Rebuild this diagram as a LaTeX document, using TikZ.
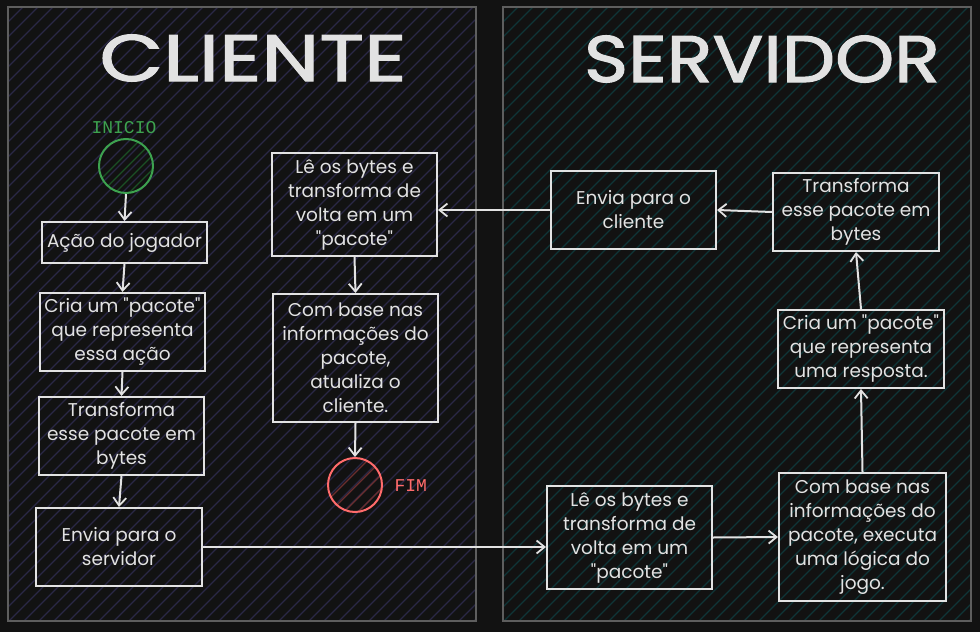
\documentclass[tikz,border=0pt]{standalone}
\usepackage{fontspec}
\setmainfont{Poppins}
\newfontfamily\monofonte{Liberation Mono}
\usepackage{tikz}
\usetikzlibrary{arrows.meta}
\usetikzlibrary{calc}

\definecolor{fundo}{HTML}{121212}
\definecolor{borda}{HTML}{5E5E5E}
\definecolor{hachL}{HTML}{2A2846}
\definecolor{hachR}{HTML}{0F3538}
\definecolor{traco}{HTML}{E2E2E2}
\definecolor{verde}{HTML}{3DA24F}
\definecolor{verdeesc}{HTML}{1B4F25}
\definecolor{vermelho}{HTML}{FF6B6B}
\definecolor{vermesc}{HTML}{6B2E2E}
\newcommand{\aspas}{\textquotedbl}

\tikzset{
  caixa/.style={draw=traco, line width=2pt, text=traco, align=center,
    inner sep=2pt, font=\fontsize{18.5}{24}\selectfont},
  seta/.style={draw=traco, line width=2pt, -{Straight Barb[length=8pt,width=13pt,line width=1.8pt]}},
  titulo/.style={text=traco, font=\addfontfeature{FakeBold=1.6}\fontsize{66}{70}\selectfont},
  painel/.style={draw=borda, line width=2.5pt},
  hachura/.style={line width=1.1pt}
}

\begin{document}
\begin{tikzpicture}[x=1pt,y=-1pt]
\fill[fundo] (0,0) rectangle (980,632);
\useasboundingbox (0,0) rectangle (980,632);

% paineis com hachura
\begin{scope}
\clip (8,7) rectangle (476,621);
\foreach \i in {-606,-591,...,480} {
  \draw[hachura, hachL] (\i,621) -- ++(640,-640);
};
\end{scope}
\begin{scope}
\clip (503,7) rectangle (971,621);
\foreach \i in {-111,-96,...,975} {
  \draw[hachura, hachR] (\i,621) -- ++(640,-640);
};
\end{scope}
\draw[painel] (8,7) rectangle (476,621);
\draw[painel] (503,7) rectangle (971,621);

\node[titulo, xscale=1.25] (tcliente) at (253,58) {CLIENTE};
\node[titulo, xscale=1.14] (tservidor) at (762,59) {SERVIDOR};

% inicio e fim
\begin{scope}
\clip (126,166) circle (27);
\foreach \i in {80,94,...,170} {
  \draw[hachura, verdeesc] (\i,200) -- ++(70,-70);
};
\end{scope}
\node[draw=verde, line width=2pt, circle, minimum size=54] (inicio) at (126,166) {};
\node[text=verde, font=\monofonte\fontsize{18}{20}\selectfont] (tinicio) at (124,128) {INICIO};

\begin{scope}
\clip (355,485) circle (27);
\foreach \i in {308,322,...,400} {
  \draw[hachura, vermesc] (\i,520) -- ++(70,-70);
};
\end{scope}
\node[draw=vermelho, line width=2pt, circle, minimum size=54] (fim) at (355,485) {};
\node[text=vermelho, font=\monofonte\fontsize{18}{20}\selectfont, anchor=west] (tfim) at (391,486) {FIM};

% cliente
\node[caixa, minimum width=165, minimum height=41] (acao) at (124.5,242.5) {Ação do jogador};
\node[caixa, minimum width=165, minimum height=78] (cria) at (122.5,332) {Cria um \aspas pacote\aspas\\que representa\\essa ação};
\node[caixa, minimum width=165, minimum height=78] (transf) at (121.5,436) {Transforma\\esse pacote em\\bytes};
\node[caixa, minimum width=166, minimum height=78] (envia) at (119,547) {Envia para o\\servidor};
\node[caixa, minimum width=165, minimum height=103] (le) at (354.5,204.5) {Lê os bytes e\\transforma de\\volta em um\\\aspas pacote\aspas};
\node[caixa, minimum width=165, minimum height=128] (atualiza) at (355.5,358) {Com base nas\\informações do\\pacote,\\atualiza o\\cliente.};

% servidor
\node[caixa, minimum width=165, minimum height=103] (sle) at (629.5,537.5) {Lê os bytes e\\transforma de\\volta em um\\\aspas pacote\aspas};
\node[caixa, minimum width=167, minimum height=128] (scom) at (862.5,537) {Com base nas\\informações do\\pacote, executa\\uma lógica do\\jogo.};
\node[caixa, minimum width=166, minimum height=78] (scria) at (861,349) {Cria um \aspas pacote\aspas\\que representa\\uma resposta.};
\node[caixa, minimum width=166, minimum height=78] (stransf) at (856,212) {Transforma\\esse pacote em\\bytes};
\node[caixa, minimum width=165, minimum height=78] (senvia) at (633.5,210) {Envia para o\\cliente};

% conexoes
\draw[seta] (inicio.south) -- (acao.north);
\draw[seta] (acao.south) -- (cria.north);
\draw[seta] (cria.south) -- (transf.north);
\draw[seta] (transf.south) -- (envia.north);
\draw[seta] (envia.east) -- (envia.east -| sle.west);
\draw[seta] (sle.east) -- (scom.west);
\draw[seta] (scom.north) -- (scria.south);
\draw[seta] (scria.north) -- (stransf.south);
\draw[seta] (stransf.west) -- (senvia.east);
\draw[seta] (senvia.west) -- (senvia.west -| le.east);
\draw[seta] (le.south) -- (atualiza.north);
\draw[seta] (atualiza.south) -- (fim.north);
\end{tikzpicture}
\end{document}
